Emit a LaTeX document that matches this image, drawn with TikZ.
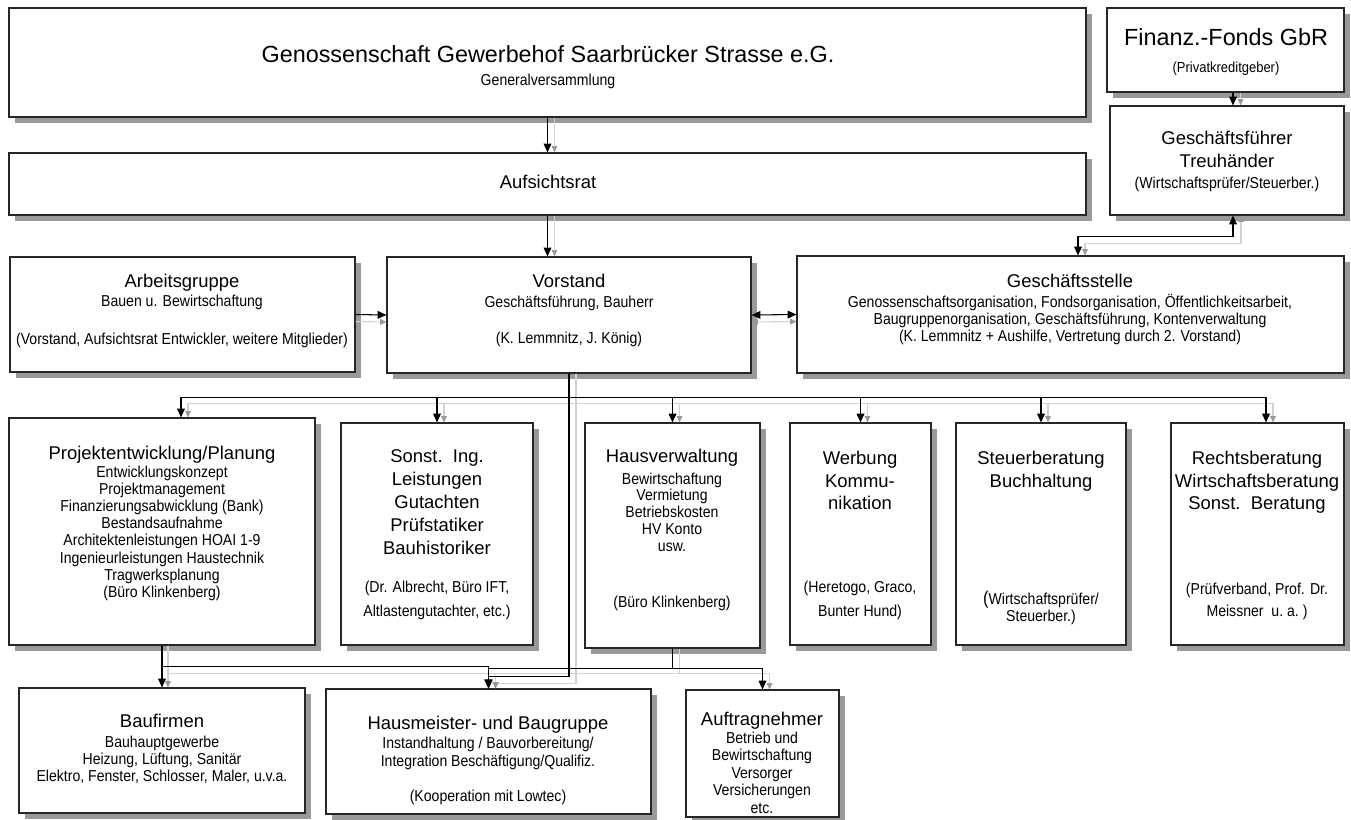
\documentclass[tikz,border=0pt]{standalone}
\usepackage{fontspec}
\setmainfont{Liberation Sans}
\newfontfamily\narrowfam{Liberation Sans}[FakeStretch=0.89]
\usetikzlibrary{arrows.meta,fit,shadows}
\newcommand\bigf{\fontsize{10.5}{13}\selectfont}
\newcommand\hugef{\fontsize{13.3}{16}\selectfont}
\newcommand\smf{\narrowfam\fontsize{9}{10}\selectfont}
\newcommand\txtlines[6]{\foreach \myitem [count=\myi] in {#6}{\node[#2] (#1-\myi) at (#3,{#4+#5*(\myi-1)}) {\myitem};}}
\begin{document}
\begin{tikzpicture}[x=0.02cm,y=-0.02cm,
  box/.style={draw=black!85, line width=0.65pt, fill=white, inner sep=0pt,
    general shadow={fill=black!40, shadow xshift=3.4pt, shadow yshift=-3.4pt}},
  bt/.style={font=\bigf, inner sep=0pt, text height=7.6pt, text depth=2.2pt},
  ht/.style={font=\hugef, inner sep=0pt, text height=9.6pt, text depth=2.8pt},
  st/.style={font=\smf, inner sep=0pt, text height=6.5pt, text depth=1.9pt},
  con/.style={draw=black, line width=0.6pt, -{Triangle[width=4.4pt,length=5pt]}},
  dcon/.style={draw=black, line width=0.6pt, {Triangle[width=4.4pt,length=5pt]}-{Triangle[width=4.4pt,length=5pt]}},
  gcon/.style={draw=black!18, line width=0.6pt, -{Triangle[width=3.2pt,length=3.6pt,color=black!40]}},
  gdcon/.style={draw=black!18, line width=0.6pt, {Triangle[width=3.2pt,length=3.6pt,color=black!40]}-{Triangle[width=3.2pt,length=3.6pt,color=black!40]}},
]
\useasboundingbox (0,0) rectangle (1351,819);

% ---------- boxes ----------
\node[box, fit={(9,8) (1086,117)}] (gen) {};
\node[box, fit={(9,153) (1086,215)}] (auf) {};
\node[box, fit={(1107,8) (1344,92)}] (fin) {};
\node[box, fit={(1110,106) (1344,215)}] (gf) {};
\node[box, fit={(10,257) (355,372)}] (ag) {};
\node[box, fit={(387,257) (751,373)}] (vor) {};
\node[box, fit={(797,256) (1344,373)}] (gs) {};
\node[box, fit={(9,418) (315,645)}] (proj) {};
\node[box, fit={(341,423) (533,645)}] (son) {};
\node[box, fit={(585,423) (760,648)}] (hv) {};
\node[box, fit={(790,423) (931,645)}] (wer) {};
\node[box, fit={(956,423) (1126,645)}] (st) {};
\node[box, fit={(1171,423) (1344,645)}] (re) {};
\node[box, fit={(19,688) (305,813)}] (bau) {};
\node[box, fit={(326,689) (651,814)}] (hm) {};
\node[box, fit={(686,690) (839,817)}] (an) {};

% ---------- texts ----------
\node[ht] (gen-t) at (548,57) {Genossenschaft Gewerbehof Saarbrücker Strasse e.G.};
\node[st] (gen-s) at (548,81) {Generalversammlung};
\node[bt] (auf-t) at (548,184) {Aufsichtsrat};
\node[ht] (fin-t) at (1226,40) {Finanz.-Fonds GbR};
\node[st, font=\narrowfam\fontsize{8.3}{10}\selectfont] (fin-s) at (1226,68) {(Privatkreditgeber)};
\txtlines{gf-t}{bt}{1227}{140}{22.5}{Geschäftsführer,Treuhänder}
\node[st] (gf-s) at (1227,184) {(Wirtschaftsprüfer/Steuerber.)};

\node[bt] (ag-t) at (182,283) {Arbeitsgruppe};
\node[st] (ag-s1) at (182,302) {Bauen u. Bewirtschaftung};
\node[st] (ag-s2) at (182,340) {(Vorstand, Aufsichtsrat Entwickler, weitere Mitglieder)};

\node[bt] (vor-t) at (569,283) {Vorstand};
\node[st] (vor-s1) at (569,303) {Geschäftsführung, Bauherr};
\node[st] (vor-s2) at (569,339) {(K. Lemmnitz, J. König)};

\node[bt] (gs-t) at (1070,283) {Geschäftsstelle};
\txtlines{gs-s}{st}{1070}{303}{17}{{Genossenschaftsorganisation, Fondsorganisation, Öffentlichkeitsarbeit,},{Baugruppenorganisation, Geschäftsführung, Kontenverwaltung},{(K. Lemmnitz + Aushilfe, Vertretung durch 2. Vorstand)}}

\node[bt] (proj-t) at (162,455) {Projektentwicklung/Planung};
\txtlines{proj-s}{st}{162}{473}{17.2}{Entwicklungskonzept,Projektmanagement,Finanzierungsabwicklung (Bank),Bestandsaufnahme,Architektenleistungen HOAI 1-9,Ingenieurleistungen Haustechnik,Tragwerksplanung,(Büro Klinkenberg)}

\txtlines{son-t}{bt}{437}{458}{23}{Sonst.~~Ing.,Leistungen,Gutachten,Prüfstatiker,Bauhistoriker}
\txtlines{son-s}{st}{437}{588}{24}{{(Dr. Albrecht, Büro IFT,},{Altlastengutachter, etc.)}}

\node[bt] (hv-t) at (672,458) {Hausverwaltung};
\txtlines{hv-s}{st}{672}{480}{16.8}{Bewirtschaftung,Vermietung,Betriebskosten,HV Konto,usw.}
\node[st] (hv-b) at (672,603) {(Büro Klinkenberg)};

\txtlines{wer-t}{bt}{860}{460}{22.5}{Werbung,Kommu-,nikation}
\txtlines{wer-s}{st}{860}{588}{24}{{(Heretogo, Graco,},{Bunter Hund)}}

\txtlines{st-t}{bt}{1041}{460}{22.5}{Steuerberatung,Buchhaltung}
\txtlines{st-s}{st}{1041}{600}{17.5}{{{\bigf(}Wirtschaftsprüfer/},{Steuerber.)}}

\txtlines{re-t}{bt}{1257}{460}{22.5}{Rechtsberatung,Wirtschaftsberatung,Sonst.~~Beratung}
\txtlines{re-s}{st}{1257}{590}{22}{{(Prüfverband, Prof. Dr.},{Meissner~~u.~a.~)}}

\node[bt] (bau-t) at (162,723) {Baufirmen};
\txtlines{bau-s}{st}{162}{743}{17.3}{Bauhauptgewerbe,{Heizung, Lüftung, Sanitär},{Elektro, Fenster, Schlosser, Maler, u.v.a.}}

\node[bt] (hm-t) at (488,725) {Hausmeister- und Baugruppe};
\txtlines{hm-s}{st}{488}{744}{18}{Instandhaltung / Bauvorbereitung/,Integration Beschäftigung/Qualifiz.}
\node[st] (hm-k) at (488,797) {(Kooperation mit Lowtec)};

\node[bt] (an-t) at (762,721) {Auftragnehmer};
\txtlines{an-s}{st}{762}{739}{17.6}{Betrieb und,Bewirtschaftung,Versorger,Versicherungen,etc.}

% ---------- grey duplicate connectors ----------
\draw[gcon] ([xshift=.14cm]gen.south) -- ([xshift=.14cm]auf.north);
\draw[gcon] ([xshift=.14cm]auf.south) -- ([xshift=.14cm]auf.south |- vor.north);
\draw[gcon] ([xshift=.30cm]fin.south) -- ([xshift=.30cm]fin.south |- gf.north);
\draw[gdcon] ([xshift=.28cm]gf.south) -- ++(0,28) -| ([xshift=.29cm]gs.north);
\draw[gcon] ([yshift=-.14cm]ag.east) -- ([yshift=-.14cm]vor.west);
\draw[gdcon] ([yshift=-.14cm]vor.east) -- ([yshift=-.14cm]gs.west);
\draw[gcon] ([xshift=.14cm]vor.south) -- ++(0,30) -| ([xshift=.52cm]proj.north);
\draw[gcon] ([xshift=.14cm]vor.south) -- ++(0,30) -| ([xshift=.14cm]son.north);
\draw[gcon] ([xshift=.14cm]vor.south) -- ++(0,30) -| ([xshift=.14cm]hv.north);
\draw[gcon] ([xshift=.14cm]vor.south) -- ++(0,30) -| ([xshift=.14cm]wer.north);
\draw[gcon] ([xshift=.14cm]vor.south) -- ++(0,30) -| ([xshift=.14cm]st.north);
\draw[gcon] ([xshift=.14cm]vor.south) -- ++(0,30) -| ([xshift=.31cm]re.north);
\draw[gcon] ([xshift=.14cm]vor.south) -- ++(0,310) -| ([xshift=.14cm]hm.north);
\draw[gcon] ([xshift=.12cm]proj.south) -- ([xshift=.12cm]bau.north);
\draw[gcon] ([xshift=.12cm]proj.south) -- ++(0,28) -| ([xshift=.14cm]hm.north);
\draw[gcon] ([xshift=.14cm]hv.south) -- ++(0,25) -| ([xshift=.14cm]hm.north);
\draw[gcon] ([xshift=.14cm]hv.south) -- ++(0,25) -| ([xshift=.14cm]an.north);

% ---------- black connectors ----------
\draw[con] (gen.south) -- (auf.north);
\draw[con] (auf.south) -- (auf.south |- vor.north);
\draw[con] ([xshift=.15cm]fin.south) -- ([xshift=.15cm]fin.south |- gf.north);
\draw[dcon] ([xshift=.12cm]gf.south) -- ++(0,21) -| ([xshift=.15cm]gs.north);
\draw[con] (ag.east) -- (vor.west);
\draw[dcon] (vor.east) -- (gs.west);
\draw[con] (vor.south) -- ++(0,24) -| ([xshift=.38cm]proj.north);
\draw[con] (vor.south) -- ++(0,24) -| (son.north);
\draw[con] (vor.south) -- ++(0,24) -| (hv.north);
\draw[con] (vor.south) -- ++(0,24) -| (wer.north);
\draw[con] (vor.south) -- ++(0,24) -| (st.north);
\draw[con] (vor.south) -- ++(0,24) -| ([xshift=.17cm]re.north);
\draw[con] (vor.south) -- ++(0,303) -| (hm.north);
\draw[con] (proj.south) -- (bau.north);
\draw[con] (proj.south) -- ++(0,21) -| (hm.north);
\draw[con] (hv.south) -- ++(0,20) -| (hm.north);
\draw[con] (hv.south) -- ++(0,20) -| (an.north);
\end{tikzpicture}
\end{document}
